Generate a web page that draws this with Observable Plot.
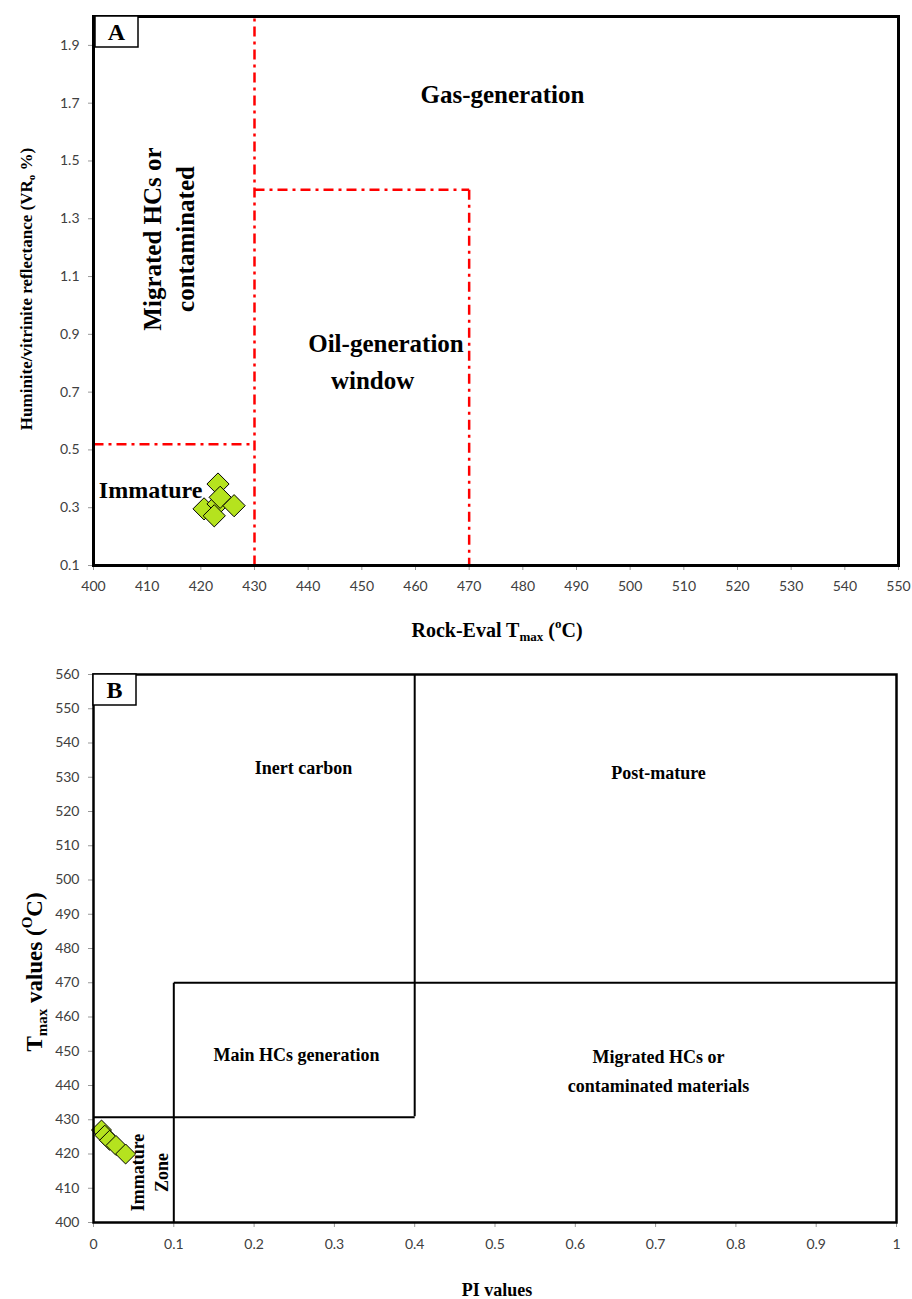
<!DOCTYPE html>
<html><head><meta charset="utf-8">
<script src="https://cdn.jsdelivr.net/npm/d3@7"></script>
<script src="https://cdn.jsdelivr.net/npm/@observablehq/plot@0.6"></script>
<style>
body{margin:0;background:#fff;}
#chart{width:912px;}
#chart svg{display:block;}
</style></head><body><div id="chart"></div>
<script>
// ---------- Panel A data ----------
const aTmax = [423.2, 420.6, 423.2, 423.6, 426.2, 422.5];
const aVRo  = [0.382, 0.296, 0.313, 0.336, 0.307, 0.272];
const aXTicks = d3.range(400, 551, 10);
const aYTicks = [0.1, 0.3, 0.5, 0.7, 0.9, 1.1, 1.3, 1.5, 1.7, 1.9];
const aBoundX1 = [430, 400, 430, 470];
const aBoundY1 = [0.1, 0.52, 1.4, 1.4];
const aBoundX2 = [430, 430, 470, 470];
const aBoundY2 = [2.0, 0.52, 1.4, 0.1];
const aZoneText = ["Gas-generation", "Oil-generation", "window", "Immature"];
const aZoneX = [476.2, 454.5, 452.0, 401.0];
const aZoneY = [1.73, 0.866, 0.738, 0.359];
const aRotText = ["Migrated HCs or", "contaminated"];
const aRotX = [411.0, 417.3];
const aRotY = [1.23, 1.23];

// ---------- Panel B data ----------
const bPI   = [0.010, 0.014, 0.020, 0.028, 0.040];
const bTmax = [427.0, 425.5, 424.0, 422.5, 420.0];
const bXTicks = d3.range(0, 11).map(d => d / 10);
const bYTicks = d3.range(400, 561, 10);
const bBoundX1 = [0.4, 0.0, 0.1, 0.1];
const bBoundY1 = [431, 430.7, 400, 470];
const bBoundX2 = [0.4, 0.4, 0.1, 1.0];
const bBoundY2 = [560, 430.7, 470, 470];
const bZoneText = ["Inert carbon", "Post-mature", "Main HCs generation", "Migrated HCs or", "contaminated materials"];
const bZoneX = [0.2615, 0.7036, 0.2528, 0.7036, 0.7036];
const bZoneY = [532.6, 531.1, 448.8, 448.2, 439.7];
const bRotText = ["Immature", "Zone"];
const bRotX = [0.056, 0.086];
const bRotY = [414.6, 414.6];

const serif = "'Liberation Serif', 'Times New Roman', serif";
const sans = "Lato, 'Open Sans', sans-serif";
const ptColor = "#b5e31e";

const zip = (keys, ...arrs) => arrs[0].map((_, i) => Object.fromEntries(keys.map((k, j) => [k, arrs[j][i]])));

const aPts = zip(["x","y"], aTmax, aVRo);
const aLines = zip(["x1","y1","x2","y2"], aBoundX1, aBoundY1, aBoundX2, aBoundY2);
const aZones = zip(["t","x","y"], aZoneText, aZoneX, aZoneY);
const aRot = zip(["t","x","y"], aRotText, aRotX, aRotY);

const plotA = Plot.plot({
  width: 912, height: 650,
  marginLeft: 93, marginRight: 14, marginTop: 16, marginBottom: 85,
  x: {domain: [400, 550]},
  y: {domain: [0.1, 2.0]},
  style: {fontFamily: sans, fontSize: "14px", color: "#404040", background: "white"},
  marks: [
    Plot.axisX(aXTicks, {tickSize: 5, tickPadding: 11, stroke: "#999", fill: "#404040", label: null}),
    Plot.axisY(aYTicks, {tickSize: 5, tickPadding: 9, stroke: "#999", fill: "#404040", label: null, tickFormat: d => d.toFixed(1)}),
    Plot.link(aLines, {x1: "x1", y1: "y1", x2: "x2", y2: "y2", stroke: "#ff0000", strokeWidth: 2.5, strokeDasharray: "10,5,3,5"}),
    Plot.text(aZones.slice(0, 3), {x: "x", y: "y", text: "t", fontFamily: serif, fontWeight: "bold", fontSize: 25, fill: "black"}),
    Plot.text(aRot, {x: "x", y: "y", text: "t", rotate: -90, fontFamily: serif, fontWeight: "bold", fontSize: 25, fill: "black"}),
    Plot.text(aZones.slice(3), {x: "x", y: "y", text: "t", textAnchor: "start", fontFamily: serif, fontWeight: "bold", fontSize: 24, fill: "black"}),
    Plot.dot(aPts, {x: "x", y: "y", symbol: "diamond2", r: 10, fill: ptColor, stroke: "black", strokeWidth: 1}),
    Plot.frame({stroke: "black", strokeWidth: 3})
  ]
});

const bPts = zip(["x","y"], bPI, bTmax);
const bLines = zip(["x1","y1","x2","y2"], bBoundX1, bBoundY1, bBoundX2, bBoundY2);
const bZones = zip(["t","x","y"], bZoneText, bZoneX, bZoneY);
const bRot = zip(["t","x","y"], bRotText, bRotX, bRotY);

const plotB = Plot.plot({
  width: 912, height: 649,
  marginLeft: 93, marginRight: 16, marginTop: 24, marginBottom: 77,
  x: {domain: [0, 1]},
  y: {domain: [400, 560]},
  style: {fontFamily: sans, fontSize: "14px", color: "#404040", background: "white"},
  marks: [
    Plot.axisX(bXTicks, {tickSize: 5, tickPadding: 12, stroke: "#999", fill: "#404040", label: null, tickFormat: d => String(+d.toFixed(1))}),
    Plot.axisY(bYTicks, {tickSize: 5, tickPadding: 9, stroke: "#999", fill: "#404040", label: null}),
    Plot.link(bLines, {x1: "x1", y1: "y1", x2: "x2", y2: "y2", stroke: "black", strokeWidth: 2}),
    Plot.text(bZones, {x: "x", y: "y", text: "t", fontFamily: serif, fontWeight: "bold", fontSize: 18, fill: "black"}),
    Plot.text(bRot, {x: "x", y: "y", text: "t", rotate: -90, fontFamily: serif, fontWeight: "bold", fontSize: 18, fill: "black"}),
    Plot.dot(bPts, {x: "x", y: "y", symbol: "diamond2", r: 9, fill: ptColor, stroke: "black", strokeWidth: 1}),
    Plot.frame({stroke: "black", strokeWidth: 2.5})
  ]
});

function panelLabel(svg, x, y, letter) {
  const g = d3.select(svg).append("g");
  g.append("rect").attr("x", x).attr("y", y).attr("width", 43).attr("height", 31)
    .attr("fill", "white").attr("stroke", "black").attr("stroke-width", 1.5);
  g.append("text").attr("x", x + 21.5).attr("y", y + 24).attr("text-anchor", "middle")
    .attr("font-family", serif).attr("font-weight", "bold").attr("font-size", 24).attr("fill", "black").text(letter);
}

function richTitle(svg, x, y, rotate, size, parts) {
  const t = d3.select(svg).append("text")
    .attr("transform", `translate(${x},${y})` + (rotate ? ` rotate(${rotate})` : ""))
    .attr("text-anchor", "middle").attr("font-family", serif).attr("font-weight", "bold")
    .attr("font-size", size).attr("fill", "black");
  parts.forEach(([s, kind]) => {
    const ts = t.append("tspan").text(s);
    if (kind === "sub") ts.attr("font-size", size * 0.65).attr("dy", size * 0.2);
    else if (kind === "sup") ts.attr("font-size", size * 0.65).attr("dy", -size * 0.45);
    else if (kind === "subBack") ts.attr("dy", -size * 0.2);
    else if (kind === "supBack") ts.attr("dy", size * 0.45);
  });
}

panelLabel(plotA, 95, 16, "A");
richTitle(plotA, 497, 637, 0, 20, [["Rock-Eval T"], ["max", "sub"], [" (", "subBack"], ["o", "sup"], ["C)", "supBack"]]);
richTitle(plotA, 32, 289, -90, 17, [["Huminite/vitrinite reflectance (VR"], ["o", "sub"], [" %)", "subBack"]]);

panelLabel(plotB, 93, 24, "B");
richTitle(plotB, 497, 646, 0, 18, [["PI values"]]);
richTitle(plotB, 42, 322, -90, 23, [["T"], ["max", "sub"], [" values (", "subBack"], ["O", "sup"], ["C)", "supBack"]]);

document.getElementById("chart").append(plotA, plotB);
</script>
</body></html>
